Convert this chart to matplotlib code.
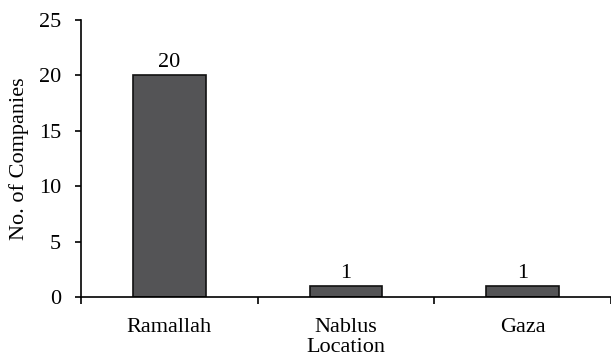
import matplotlib
matplotlib.use("Agg")
import matplotlib.pyplot as plt
import numpy as np

locations = ["Ramallah", "Nablus", "Gaza"]
companies = [20, 1, 1]

plt.rcParams["font.family"] = ["Liberation Serif", "DejaVu Serif"]
fs = 16

fig = plt.figure(figsize=(6.11, 3.61), dpi=100)
ax = fig.add_axes([0.1326, 0.177, 0.867, 0.768])

x = np.arange(len(locations))
bars = ax.bar(x, companies, width=0.41, color="#545456", edgecolor="#111111",
              linewidth=1.2, zorder=2)
for b, v in zip(bars, companies):
    ax.text(b.get_x() + b.get_width() / 2, v + 0.3, str(v), ha="center",
            va="bottom", fontsize=fs)

ax.set_xlim(-0.5, len(locations) - 0.5)
ax.set_ylim(0, 25)
ax.set_yticks(range(0, 26, 5))
ax.set_xticks(x)
ax.set_xticklabels(locations, fontsize=fs)
ax.set_xticks(np.arange(-0.5, len(locations), 1), minor=True)
ax.tick_params(axis="x", which="major", length=0, pad=15)
ax.tick_params(axis="x", which="minor", length=5, width=1.2, direction="out")
ax.tick_params(axis="y", labelsize=fs, length=4.5, width=1.2, direction="out",
               pad=10)
ax.set_ylabel("No. of Companies", fontsize=fs, labelpad=7)
ax.set_xlabel("Location", fontsize=fs, labelpad=0.5)
for s in ("top", "right"):
    ax.spines[s].set_visible(False)
for s in ("left", "bottom"):
    ax.spines[s].set_linewidth(1.2)

fig.savefig("out.png", dpi=100)
